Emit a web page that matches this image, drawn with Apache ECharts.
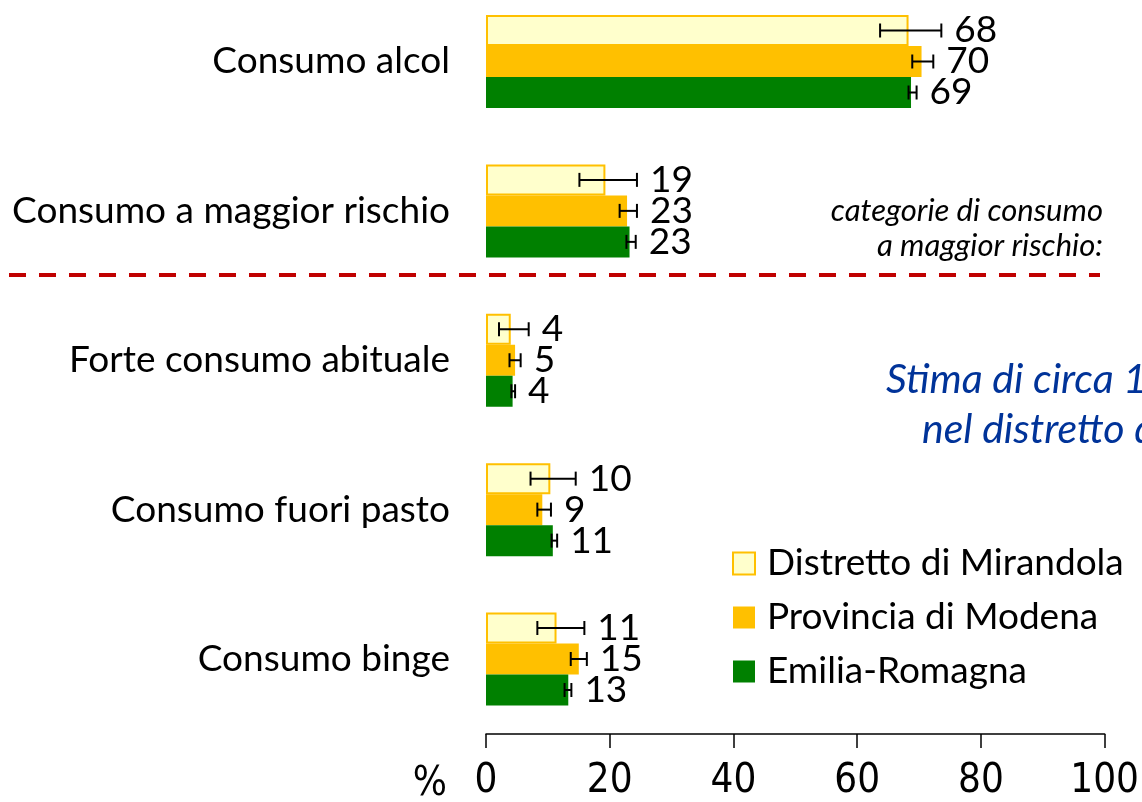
<!DOCTYPE html>
<html>
<head>
<meta charset="utf-8">
<script src="https://cdn.jsdelivr.net/npm/echarts@6/dist/echarts.min.js"></script>
<style>
  html, body { margin: 0; padding: 0; background: #fff; }
  #main { width: 1142px; height: 802px; }
</style>
</head>
<body>
<div id="main"></div>
<script>
// categorie (dall'alto verso il basso)
var categorie = ['Consumo alcol', 'Consumo a maggior rischio', 'Forte consumo abituale', 'Consumo fuori pasto', 'Consumo binge'];
var nomiSerie = ['Distretto di Mirandola', 'Provincia di Modena', 'Emilia-Romagna'];

// prevalenze %
var distretto = [68.3, 19.3, 4.0, 10.4, 11.4];
var provincia = [70.4, 22.8, 4.7, 9.1, 15.0];
var regione   = [68.7, 23.2, 4.3, 10.8, 13.3];

// intervalli di confidenza
var distrettoInf = [63.7, 15.1, 2.1, 7.2, 8.3];
var distrettoSup = [73.6, 24.4, 6.9, 14.5, 15.9];
var provinciaInf = [68.9, 21.6, 3.8, 8.3, 13.7];
var provinciaSup = [72.3, 24.4, 5.6, 10.5, 16.3];
var regioneInf   = [68.3, 22.7, 4.1, 10.6, 12.7];
var regioneSup   = [69.6, 24.2, 4.7, 11.5, 13.8];

var tickX = [0, 20, 40, 60, 80, 100];

var BAR_W = 31;
var FONT = 'Lato, "Noto Sans", sans-serif';
var NARROW = '"Liberation Sans Narrow", "DejaVu Sans Condensed", sans-serif';

var myChart = echarts.init(document.getElementById('main'));

function erroriData(val, inf, sup) {
  return val.map(function (v, i) { return [inf[i], sup[i], i, Math.round(v)]; });
}

function errorBar(pos) {
  return function (params, api) {
    var lo = api.coord([api.value(0), api.value(2)]);
    var hi = api.coord([api.value(1), api.value(2)]);
    var y = lo[1] + (pos - 1) * BAR_W;
    var cap = 7;
    var st = { stroke: '#000', lineWidth: 2 };
    return {
      type: 'group',
      children: [
        { type: 'line', shape: { x1: lo[0], y1: y, x2: hi[0], y2: y }, style: st },
        { type: 'line', shape: { x1: lo[0], y1: y - cap, x2: lo[0], y2: y + cap }, style: st },
        { type: 'line', shape: { x1: hi[0], y1: y - cap, x2: hi[0], y2: y + cap }, style: st },
        { type: 'text', x: hi[0] + 13, y: y, style: {
            text: String(api.value(3)), fill: '#000', fontFamily: FONT, fontSize: 37,
            textAlign: 'left', textVerticalAlign: 'middle' } }
      ]
    };
  };
}

var option = {
  animation: false,
  backgroundColor: '#fff',
  // centri delle categorie da y=61.5 a y=661, asse x spostato più in basso
  grid: { left: 486, right: 35, top: 61.5, bottom: 141, containLabel: false },
  legend: {
    orient: 'vertical',
    left: 727,
    top: 540,
    itemWidth: 22,
    itemHeight: 22,
    itemGap: 17,
    icon: 'rect',
    data: nomiSerie,
    textStyle: { fontFamily: FONT, fontSize: 37, lineHeight: 36, color: '#000', padding: [0, 0, 0, 7] }
  },
  xAxis: {
    type: 'value',
    min: 0, max: 100, interval: 20,
    offset: 75,
    splitLine: { show: false },
    axisLine: { show: true, lineStyle: { color: '#000', width: 1.5 } },
    axisTick: { show: true, length: 14, lineStyle: { color: '#000', width: 1.5 } },
    axisLabel: {
      margin: 28,
      color: '#000',
      fontSize: 40,
      fontFamily: NARROW,
      formatter: function (v) { return tickX.indexOf(v) >= 0 ? String(v) : ''; }
    }
  },
  yAxis: {
    type: 'category',
    inverse: true,
    boundaryGap: false,
    data: categorie,
    axisLine: { show: false },
    axisTick: { show: false },
    axisLabel: { margin: 36, color: '#000', fontSize: 37, fontFamily: FONT }
  },
  series: [
    { name: nomiSerie[0], type: 'bar', data: distretto, barWidth: BAR_W, barGap: '0%', clip: false,
      itemStyle: { color: '#FFFFCC', borderColor: '#FFC000', borderWidth: 2 } },
    { name: nomiSerie[1], type: 'bar', data: provincia, barWidth: BAR_W, barGap: '0%', clip: false,
      itemStyle: { color: '#FFC000' } },
    { name: nomiSerie[2], type: 'bar', data: regione, barWidth: BAR_W, barGap: '0%', clip: false,
      itemStyle: { color: '#008000' } },
    { type: 'custom', renderItem: errorBar(0), data: erroriData(distretto, distrettoInf, distrettoSup),
      encode: { x: [0, 1], y: 2 }, z: 5, clip: false },
    { type: 'custom', renderItem: errorBar(1), data: erroriData(provincia, provinciaInf, provinciaSup),
      encode: { x: [0, 1], y: 2 }, z: 5, clip: false },
    { type: 'custom', renderItem: errorBar(2), data: erroriData(regione, regioneInf, regioneSup),
      encode: { x: [0, 1], y: 2 }, z: 5, clip: false }
  ],
  graphic: [
    { type: 'line', shape: { x1: 9, y1: 275, x2: 1100, y2: 275 },
      style: { stroke: '#C00000', lineWidth: 4, lineDash: [17, 13] } },
    { type: 'text', x: 1103, y: 211, style: { text: 'categorie di consumo', fill: '#000',
      fontFamily: FONT, fontStyle: 'italic', fontSize: 31, textAlign: 'right', textVerticalAlign: 'middle' } },
    { type: 'text', x: 1103, y: 246, style: { text: 'a maggior rischio:', fill: '#000',
      fontFamily: FONT, fontStyle: 'italic', fontSize: 31, textAlign: 'right', textVerticalAlign: 'middle' } },
    { type: 'text', x: 886, y: 380, style: { text: 'Stima di circa 1', fill: '#003399',
      fontFamily: FONT, fontStyle: 'italic', fontSize: 41, textAlign: 'left', textVerticalAlign: 'middle' } },
    { type: 'text', x: 922, y: 430, style: { text: 'nel distretto di', fill: '#003399',
      fontFamily: FONT, fontStyle: 'italic', fontSize: 41, textAlign: 'left', textVerticalAlign: 'middle' } },
    { type: 'text', x: 447, y: 785, style: { text: '%', fill: '#000',
      fontFamily: NARROW, fontSize: 40, textAlign: 'right', textVerticalAlign: 'middle' } }
  ]
};

myChart.setOption(option);
</script>
</body>
</html>
